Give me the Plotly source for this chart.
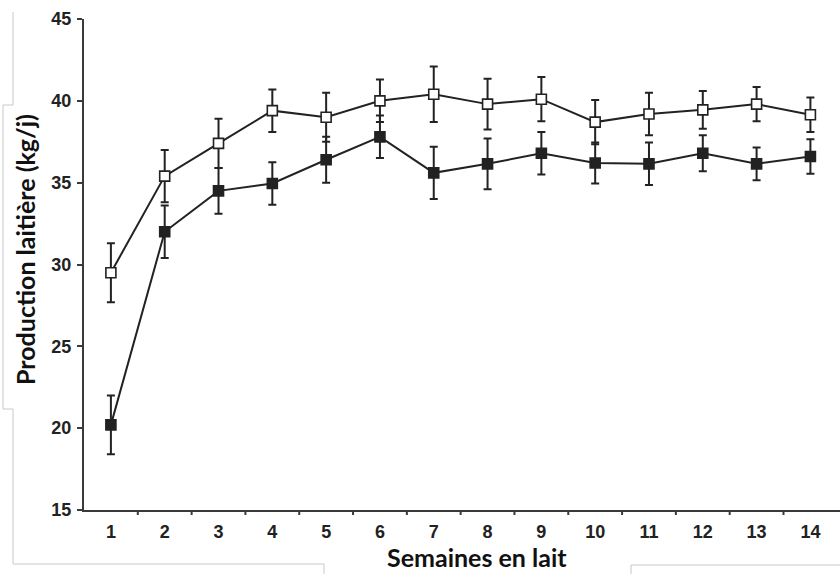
import plotly.graph_objects as go

# Weekly milk yield (kg/day), two groups, mean ± SE
weeks = list(range(1, 15))
week_labels = [str(w) for w in weeks]

group_open = [29.5, 35.4, 37.4, 39.4, 39.0, 40.0, 40.4, 39.8, 40.1, 38.7, 39.2, 39.45, 39.8, 39.15]
group_open_err = [1.8, 1.6, 1.5, 1.3, 1.5, 1.3, 1.7, 1.55, 1.35, 1.35, 1.3, 1.15, 1.05, 1.05]

group_filled = [20.2, 32.0, 34.5, 34.95, 36.4, 37.8, 35.6, 36.15, 36.8, 36.2, 36.15, 36.8, 36.15, 36.6]
group_filled_err = [1.8, 1.6, 1.4, 1.3, 1.4, 1.3, 1.6, 1.55, 1.3, 1.25, 1.3, 1.1, 1.0, 1.05]

y_ticks = [15, 20, 25, 30, 35, 40, 45]

INK = "#222222"
AXIS = "#3a3a3a"
TICK_FONT = dict(family="Liberation Sans, Arial", size=18, color="#222", weight="bold")
TITLE_FONT = dict(family="Lato", size=25, color="#111")

fig = go.Figure()


def add_series(values, errors, fill):
    fig.add_trace(go.Scatter(
        x=weeks, y=values,
        mode="lines+markers",
        line=dict(color=INK, width=2),
        marker=dict(symbol="square", size=10, color=fill,
                    line=dict(color=INK, width=1.6)),
        error_y=dict(type="data", array=errors, visible=True,
                     color=INK, thickness=2, width=4),
        showlegend=False,
    ))


add_series(group_filled, group_filled_err, INK)
add_series(group_open, group_open_err, "white")

L, R, T, B = 84, 0, 19, 64
W, H = 840, 574
pw, ph = W - L - R, H - T - B


def px(x):
    return (x - L) / pw


def py(y):
    return (H - B - y) / ph


# light frame lines around the figure
frame = [
    (13, 12, 13, 105), (13, 105, 3, 105), (3, 105, 3, 409), (3, 409, 13, 409),
    (13, 409, 13, 564), (13, 564, 324, 564), (324, 564, 324, 574),
    (631, 565, 840, 565), (631, 565, 631, 574),
]
shapes = [
    dict(type="line", xref="paper", yref="paper",
         x0=px(a), y0=py(b), x1=px(c), y1=py(d),
         line=dict(color="#c8c8c8", width=1))
    for a, b, c, d in frame
]

# minor ticks between weeks on the x axis
for k in range(1, 14):
    shapes.append(dict(type="line", xref="x", yref="paper",
                       x0=k + 0.5, x1=k + 0.5, y0=0, y1=-5 / ph,
                       line=dict(color=AXIS, width=2)))

fig.update_layout(
    width=W, height=H,
    margin=dict(l=L, r=R, t=T, b=B),
    paper_bgcolor="white", plot_bgcolor="white",
    shapes=shapes,
    xaxis=dict(
        range=[0.5, 14.55], tickmode="array", tickvals=weeks, ticktext=week_labels,
        showgrid=False, zeroline=False, showline=True, linecolor=AXIS, linewidth=2,
        ticks="", tickfont=TICK_FONT, ticklabelstandoff=4,
    ),
    yaxis=dict(
        range=[15, 45], tickvals=y_ticks,
        showgrid=False, zeroline=False, showline=True, linecolor=AXIS, linewidth=2,
        ticks="outside", ticklen=5, tickwidth=2, tickcolor=AXIS,
        tickfont=TICK_FONT, ticklabelstandoff=2,
    ),
    annotations=[
        dict(text="<b>Semaines en lait</b>", xref="paper", yref="paper",
             x=px(477), y=py(557), xanchor="center", yanchor="middle",
             showarrow=False, font=TITLE_FONT),
        dict(text="<b>Production laitière (kg/j)</b>", xref="paper", yref="paper",
             x=px(25), y=py(250), xanchor="center", yanchor="middle",
             textangle=-90, showarrow=False, font=TITLE_FONT),
    ],
)

fig.write_html("out.html")
